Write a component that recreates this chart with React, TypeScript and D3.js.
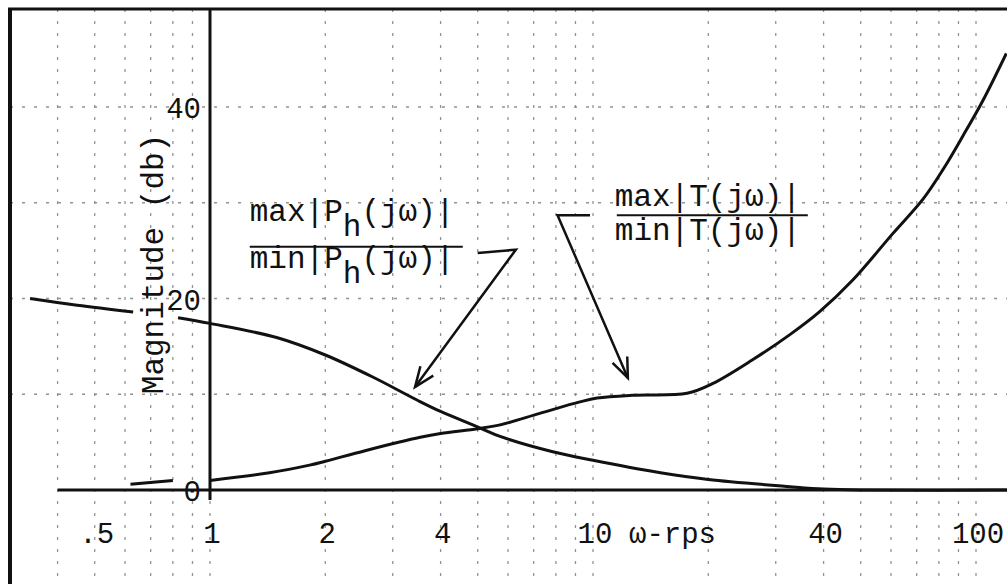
import React from 'react';
import * as d3 from 'd3';

const W = 1007;
const H = 584;

// Ratio of max/min |P_h(jω)| in dB versus frequency (rad/s); null marks a break in the trace
const phOmega = [0.339, 0.45, 0.63, 0.72, 0.825, 1, 1.5, 2, 2.66, 3.47, 4, 5.06, 5.72, 7.85, 10, 15, 20, 32.7, 40, 50, 130];
const phDb: (number | null)[] = [20.0, 19.3, 18.6, null, 18.0, 17.4, 15.9, 14.1, 11.8, 9.4, 8.2, 6.5, 5.6, 4.0, 3.1, 1.8, 1.1, 0.35, 0.1, 0, 0];

// Ratio of max/min |T(jω)| in dB versus frequency (rad/s)
const tOmega = [0.62, 0.8, 0.9, 1, 1.43, 1.82, 2, 2.54, 3.54, 4, 5, 5.72, 7.26, 9.24, 10.25, 12.7, 17.6, 20.5, 26.1, 32.6, 39, 47.6, 60.7, 72.8, 82.4, 92.5, 104, 120];
const tDb: (number | null)[] = [0.6, 1.0, null, 1.0, 1.8, 2.6, 3.0, 4.1, 5.5, 5.9, 6.4, 6.8, 8.0, 9.2, 9.6, 9.9, 10.1, 11.1, 13.6, 16.2, 18.6, 21.9, 26.8, 30.4, 33.6, 37.0, 40.6, 45.6];

const xTickValues = [0.5, 1, 2, 4, 10, 40, 100];
const xTickLabels = ['.5', '1', '2', '4', '10', '40', '100'];
const yTickValues = [0, 20, 40];
const yTickLabels = ['0', '20', '40'];
const gridOmega = [0.4, 0.5, 0.6, 0.7, 0.8, 0.9, 1, 2, 3, 4, 5, 6, 7, 8, 9, 10, 20, 30, 40, 50, 60, 70, 80, 90, 100];
const gridDb = [10, 20, 30, 40];

// Annotation anchors in data units: [ω, dB]
const phLabelAt: [number, number] = [1.27, 25.4];
const phLeaderFrom: [number, number] = [5.0, 24.75];
const phArrowFrom: [number, number] = [6.29, 25.1];
const phArrowTo: [number, number] = [3.43, 10.75];
const tLabelAt: [number, number] = [11.54, 28.7];
const tLeaderFrom: [number, number] = [9.82, 28.7];
const tArrowFrom: [number, number] = [8.08, 28.7];
const tArrowTo: [number, number] = [12.33, 11.7];

const FONT = '"Liberation Mono", "DejaVu Sans Mono", monospace';
const INK = '#111';

function arrowHead(x1: number, y1: number, x2: number, y2: number, len = 20, half = 8) {
  const dx = x2 - x1;
  const dy = y2 - y1;
  const n = Math.hypot(dx, dy);
  const ux = dx / n;
  const uy = dy / n;
  const bx = x2 - len * ux;
  const by = y2 - len * uy;
  const px = -uy;
  const py = ux;
  return `M${bx + half * px},${by + half * py}L${x2},${y2}L${bx - half * px},${by - half * py}`;
}

export default function App() {
  const x = d3.scaleLog().domain([1, 10]).range([210, 593]);
  const y = d3.scaleLinear().domain([0, 40]).range([490, 107]);

  const line = d3
    .line<[number, number | null]>()
    .defined((d) => d[1] !== null)
    .x((d) => x(d[0]))
    .y((d) => y(d[1] as number))
    .curve(d3.curveCatmullRom.alpha(0.5));

  const phPts = phOmega.map((w, i) => [w, phDb[i]] as [number, number | null]);
  const tPts = tOmega.map((w, i) => [w, tDb[i]] as [number, number | null]);

  const x0 = x(1);
  const yZero = y(0);
  const topY = 9;
  const leftX = 10;
  const fs = 31;

  const [p1x, p1y] = [x(phLabelAt[0]), y(phLabelAt[1])];
  const [t1x, t1y] = [x(tLabelAt[0]), y(tLabelAt[1])];

  const pA = [x(phArrowFrom[0]), y(phArrowFrom[1]), x(phArrowTo[0]), y(phArrowTo[1])];
  const tA = [x(tArrowFrom[0]), y(tArrowFrom[1]), x(tArrowTo[0]), y(tArrowTo[1])];

  return (
    <svg
      width={W}
      height={H}
      viewBox={`0 0 ${W} ${H}`}
      style={{ position: 'absolute', left: 0, top: 0, display: 'block', background: '#fff' }}
    >
      <rect x={0} y={0} width={W} height={H} fill="#fff" />

      {/* log grid */}
      <g stroke={INK} strokeWidth={1.3} strokeDasharray="3 9" opacity={0.45}>
        {gridOmega.map((w) => (
          <line key={'gx' + w} x1={x(w)} x2={x(w)} y1={topY} y2={H} />
        ))}
        {gridDb.map((v) => (
          <line key={'gy' + v} x1={leftX} x2={W} y1={y(v)} y2={y(v)} />
        ))}
      </g>

      {/* frame and axes */}
      <line x1={leftX} x2={leftX} y1={topY - 1} y2={H} stroke={INK} strokeWidth={4} />
      <line x1={leftX - 2} x2={W} y1={topY} y2={topY} stroke={INK} strokeWidth={3} />
      <line x1={x0} x2={x0} y1={topY} y2={yZero + 10} stroke={INK} strokeWidth={3} />
      <line x1={x(0.4)} x2={W} y1={yZero} y2={yZero} stroke={INK} strokeWidth={3} />

      {/* curves */}
      <path d={line(phPts) || ''} fill="none" stroke={INK} strokeWidth={3} />
      <path d={line(tPts) || ''} fill="none" stroke={INK} strokeWidth={3} />

      {/* tick labels */}
      <g fontFamily={FONT} fontSize={29} fill={INK}>
        {xTickValues.map((v, i) => (
          <text key={'xt' + v} x={x(v) + 2} y={543} textAnchor="middle">
            {xTickLabels[i]}
          </text>
        ))}
        <text x={x(10) + 36} y={543}>ω-rps</text>
        {yTickValues.map((v, i) => (
          <text key={'yt' + v} x={x0 - 9} y={y(v) + 11} textAnchor="end">
            {yTickLabels[i]}
          </text>
        ))}
      </g>

      {/* axis title */}
      <text
        transform={`translate(163, 264) rotate(-90)`}
        textAnchor="middle"
        fontFamily={FONT}
        fontSize={fs}
        fill={INK}
      >
        Magnitude (db)
      </text>

      {/* P_h ratio label */}
      <g fontFamily={FONT} fontSize={fs} fill={INK}>
        <text x={p1x} y={p1y - 26}>
          max|P<tspan dy={15}>h</tspan>
          <tspan dy={-15}>(jω)|</tspan>
        </text>
        <text x={p1x} y={p1y + 21}>
          min|P<tspan dy={15}>h</tspan>
          <tspan dy={-15}>(jω)|</tspan>
        </text>
      </g>
      <line x1={p1x} x2={p1x + 213} y1={p1y} y2={p1y} stroke={INK} strokeWidth={2} />
      <path
        d={`M${x(phLeaderFrom[0])},${y(phLeaderFrom[1])}L${pA[0]},${pA[1]}L${pA[2]},${pA[3]}`}
        fill="none"
        stroke={INK}
        strokeWidth={2.5}
      />
      <path d={arrowHead(pA[0], pA[1], pA[2], pA[3])} fill="none" stroke={INK} strokeWidth={2.5} />

      {/* T ratio label */}
      <g fontFamily={FONT} fontSize={fs} fill={INK}>
        <text x={t1x - 2} y={t1y - 9}>max|T(jω)|</text>
        <text x={t1x - 2} y={t1y + 25}>min|T(jω)|</text>
      </g>
      <line x1={t1x} x2={t1x + 191} y1={t1y} y2={t1y} stroke={INK} strokeWidth={2} />
      <path
        d={`M${x(tLeaderFrom[0])},${y(tLeaderFrom[1])}L${tA[0]},${tA[1]}L${tA[2]},${tA[3]}`}
        fill="none"
        stroke={INK}
        strokeWidth={2.5}
      />
      <path d={arrowHead(tA[0], tA[1], tA[2], tA[3])} fill="none" stroke={INK} strokeWidth={2.5} />
    </svg>
  );
}
